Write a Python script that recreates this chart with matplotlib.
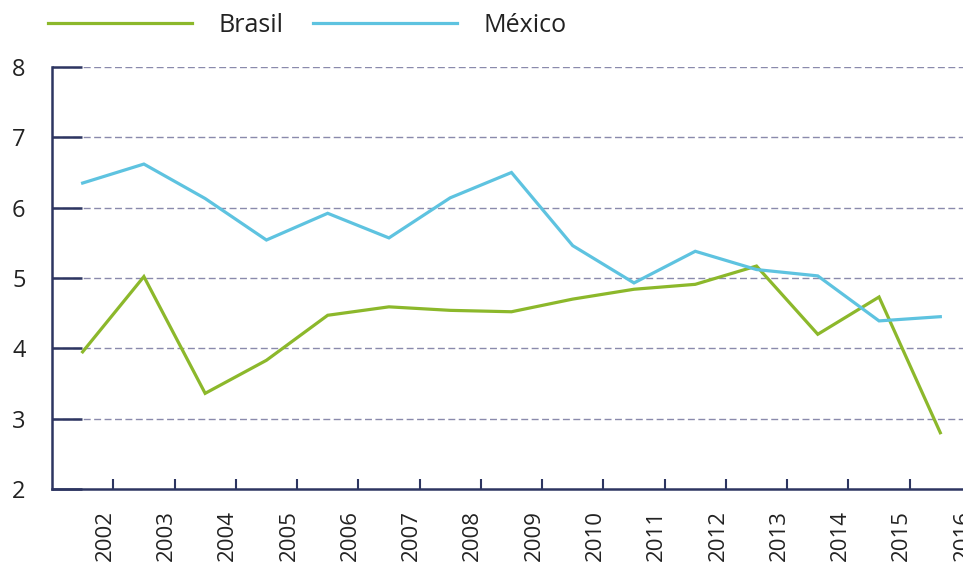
import matplotlib
matplotlib.use("Agg")
import matplotlib.pyplot as plt
import matplotlib.transforms as mtrans
import numpy as np

years = ["2002", "2003", "2004", "2005", "2006", "2007", "2008", "2009",
         "2010", "2011", "2012", "2013", "2014", "2015", "2016"]
brasil = [3.95, 5.02, 3.36, 3.83, 4.47, 4.59, 4.54, 4.52, 4.70, 4.84, 4.91,
          5.17, 4.20, 4.73, 2.80]
mexico = [6.35, 6.62, 6.13, 5.54, 5.92, 5.57, 6.14, 6.50, 5.46, 4.93, 5.38,
          5.12, 5.03, 4.39, 4.45]

plt.rcParams['font.family'] = ['Open Sans', 'DejaVu Sans']

navy = '#2d3561'
green = '#8cb82b'
blue = '#5ec3e0'

fig = plt.figure(figsize=(9.63, 5.63), dpi=100)
ax = fig.add_axes([52 / 963, 74 / 563, 922 / 963, 422 / 563])

x = np.arange(len(years))
ax.plot(x, brasil, color=green, lw=2.3, label='Brasil', solid_joinstyle='miter')
ax.plot(x, mexico, color=blue, lw=2.3, label='México', solid_joinstyle='miter')

ax.set_xlim(-0.5, len(years) - 0.45)
ax.set_ylim(2, 8)

# dashed grid lines
for v in range(3, 9):
    ax.axhline(v, color='#8a8aac', lw=1, ls=(0, (5, 2.5)), zorder=0)

for s in ['top', 'right']:
    ax.spines[s].set_visible(False)
for s in ['left', 'bottom']:
    ax.spines[s].set_color(navy)
    ax.spines[s].set_linewidth(1.8)

ax.set_yticks(range(2, 9))
ax.tick_params(axis='y', direction='in', length=21.5, width=1.8, color=navy,
               labelsize=17, pad=19, labelcolor='#222222')

ax.set_xticks(x + 0.5)
ax.set_xticklabels(years, rotation=90, va='top', ha='center')
ax.tick_params(axis='x', direction='in', length=7, width=1.5, color=navy,
               labelsize=16, pad=15, labelcolor='#222222')
shift = mtrans.ScaledTranslation(-8 / 100, 0, fig.dpi_scale_trans)
for lab in ax.get_xticklabels():
    lab.set_transform(lab.get_transform() + shift)

fig.legend(loc='center left', bbox_to_anchor=(48 / 963, 1 - 25 / 563),
           ncol=2, frameon=False, fontsize=18, handlelength=5.76,
           handletextpad=1.05, columnspacing=1.2, borderpad=0,
           borderaxespad=0, labelcolor='#222222')

fig.savefig('out.png', dpi=100)
